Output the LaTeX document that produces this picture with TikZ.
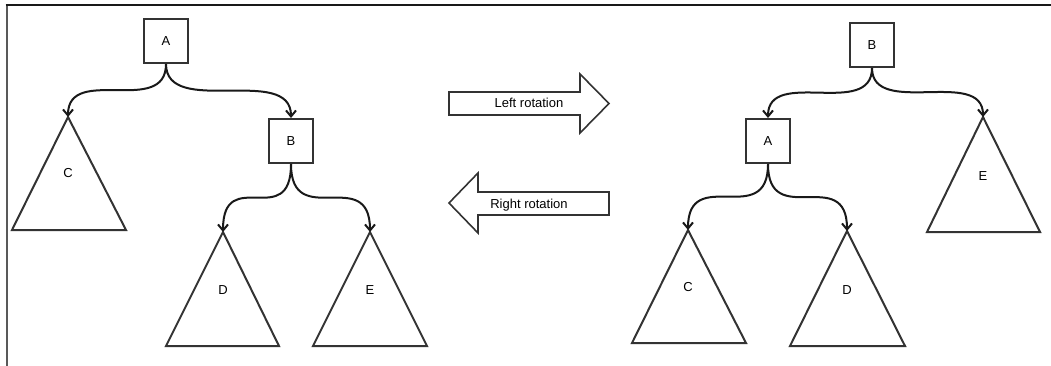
\documentclass[tikz,border=0pt]{standalone}
\usepackage{fontspec}
\setmainfont{Liberation Sans}
\usetikzlibrary{arrows.meta}

\begin{document}
\begin{tikzpicture}[x=1pt,y=-1pt,
  box/.style={draw=black!80,line width=2pt,minimum size=44pt,inner sep=0pt,font=\fontsize{13}{15}\selectfont},
  tri/.style={draw=black!80,line width=2pt},
  lbl/.style={font=\fontsize{13}{15}\selectfont,inner sep=0pt},
  edge/.style={draw=black!90,line width=2pt,-{Straight Barb[length=6pt,width=10pt]}},
  rot/.style={draw=black!80,line width=1.6pt,line join=miter}]
\useasboundingbox (0,0) rectangle (1051,366);
% frame
\draw[black!65,line width=2pt] (6.5,366) -- (6.5,5);
\draw[black!90,line width=2pt] (5.5,5) -- (1051,5);

% Left tree
\begin{scope}
\node[box] (lA) at (166,41) {A};
\node[box] (lB) at (291,141) {B};
\draw[tri] (68,117) coordinate (lCt) -- (126,230) -- (12,230) -- cycle;
\node[lbl] (lC) at (68,173) {C};
\draw[tri] (223,232) coordinate (lDt) -- (279,346) -- (166,346) -- cycle;
\node[lbl] (lD) at (223,290) {D};
\draw[tri] (370,232) coordinate (lEt) -- (427,346) -- (313,346) -- cycle;
\node[lbl] (lE) at (370,290) {E};
\draw[edge] (lA.south) .. controls +(0,54) and +(0,-54) .. (lB.north);
\draw[edge] (lA.south) .. controls +(0,53) and +(0,-53) .. (lCt);
\draw[edge] (lB.south) .. controls +(0,68) and +(0,-68) .. (lDt);
\draw[edge] (lB.south) .. controls +(0,68) and +(0,-68) .. (lEt);
\end{scope}

% Rotation arrows
\node[lbl,anchor=base] (lrot) at (529,108) {Left rotation};
\draw[rot] (449,92) -- (580,92) -- (580,74) -- (609,103.5) -- (580,133) -- (580,115) -- (449,115) -- cycle;
\node[lbl,anchor=base] (rrot) at (529,208) {Right rotation};
\draw[rot] (449,203) -- (478,173) -- (478,192) -- (609,192) -- (609,215) -- (478,215) -- (478,233) -- cycle;

% Right tree
\begin{scope}
\node[box] (rB) at (872,45) {B};
\node[box] (rA) at (768,141) {A};
\draw[tri] (983,117) coordinate (rEt) -- (1040,232) -- (927,232) -- cycle;
\node[lbl] (rE) at (983,176) {E};
\draw[tri] (688,230) coordinate (rCt) -- (746,343) -- (632,343) -- cycle;
\node[lbl] (rC) at (688,287) {C};
\draw[tri] (847,231) coordinate (rDt) -- (905,346) -- (790,346) -- cycle;
\node[lbl] (rD) at (847,290) {D};
\draw[edge] (rB.south) .. controls +(0,51) and +(0,-51) .. (rA.north);
\draw[edge] (rB.south) .. controls +(0,50) and +(0,-50) .. (rEt);
\draw[edge] (rA.south) .. controls +(0,66) and +(0,-66) .. (rCt);
\draw[edge] (rA.south) .. controls +(0,67) and +(0,-67) .. (rDt);
\end{scope}
\end{tikzpicture}
\end{document}
